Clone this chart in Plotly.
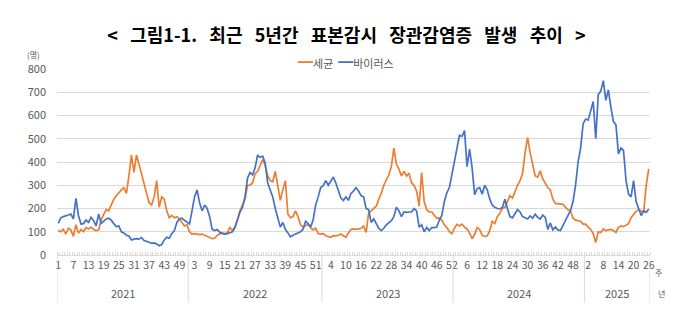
import plotly.graph_objects as go

years = [2021, 2022, 2023, 2024, 2025]
weeks_in_year = [52, 53, 52, 52, 26]

# 세균 (bacteria) weekly counts
bacteria_2021 = [105, 100, 110, 90, 115, 108, 80, 130, 95, 110, 100, 118, 112, 120, 110, 105, 108, 150,
                 175, 195, 190, 215, 240, 255, 270, 280, 290, 265, 340, 430, 355, 430, 390, 345, 300, 265,
                 225, 215, 250, 320, 205, 250, 240, 190, 160, 170, 160, 165, 155, 140, 125, 130]
bacteria_2022 = [100, 90, 92, 90, 88, 90, 85, 80, 76, 70, 72, 85, 90, 95, 92, 95, 118, 105, 120, 150,
                 190, 215, 240, 300, 300, 310, 350, 360, 385, 410, 385, 340, 320, 315, 360, 300, 235, 280,
                 320, 175, 160, 165, 190, 165, 130, 120, 125, 132, 118, 108, 115, 92, 90]
bacteria_2023 = [92, 83, 78, 76, 83, 82, 85, 90, 83, 76, 95, 110, 112, 110, 112, 115, 125, 97, 180, 190,
                 202, 210, 240, 265, 300, 325, 345, 380, 460, 390, 370, 340, 360, 340, 352, 310, 300, 275,
                 210, 355, 230, 195, 185, 185, 170, 158, 160, 150, 130, 118, 100, 92]
bacteria_2024 = [115, 132, 125, 133, 120, 112, 95, 70, 88, 118, 110, 85, 80, 83, 105, 145, 135, 165, 180,
                 200, 205, 230, 255, 245, 275, 300, 320, 350, 440, 505, 440, 390, 340, 335, 362, 327, 310,
                 290, 280, 240, 222, 220, 220, 218, 205, 195, 190, 158, 150, 148, 145, 133]
bacteria_2025 = [133, 120, 110, 92, 54, 100, 97, 112, 105, 108, 110, 105, 97, 119, 125, 122, 127, 135,
                 160, 176, 188, 195, 190, 185, 300, 370]

# 바이러스 (virus) weekly counts
virus_2021 = [136, 160, 165, 170, 172, 176, 155, 244, 170, 133, 135, 150, 140, 162, 148, 125, 176, 136,
              145, 155, 158, 150, 135, 122, 125, 100, 95, 85, 82, 65, 68, 70, 68, 75, 62, 60, 55, 50, 52,
              47, 40, 45, 65, 76, 72, 92, 105, 140, 155, 158, 150, 140]
virus_2022 = [133, 190, 250, 280, 225, 190, 215, 200, 165, 110, 105, 110, 98, 92, 90, 92, 95, 100, 118,
              150, 185, 205, 250, 330, 355, 345, 375, 430, 420, 425, 395, 310, 280, 250, 200, 165, 120,
              140, 110, 95, 78, 85, 90, 97, 100, 110, 145, 135, 120, 150, 215, 250, 290]
virus_2023 = [298, 320, 300, 315, 335, 310, 280, 245, 235, 250, 235, 265, 275, 290, 275, 255, 250, 200,
              195, 140, 155, 135, 115, 105, 115, 130, 140, 148, 165, 205, 190, 165, 185, 183, 185, 185,
              200, 190, 120, 130, 100, 118, 105, 118, 118, 120, 150, 170, 230, 268, 290, 345]
virus_2024 = [410, 455, 515, 510, 535, 380, 455, 375, 260, 285, 290, 262, 300, 280, 240, 215, 205, 200,
              198, 205, 240, 200, 165, 160, 175, 195, 185, 165, 160, 155, 168, 158, 175, 162, 155, 172,
              162, 110, 138, 108, 120, 108, 105, 128, 150, 170, 192, 230, 300, 400, 460, 565]
virus_2025 = [585, 580, 625, 660, 500, 690, 705, 750, 665, 710, 635, 575, 560, 435, 460, 450, 320, 262,
              250, 320, 230, 195, 170, 190, 183, 198]

bacteria = bacteria_2021 + bacteria_2022 + bacteria_2023 + bacteria_2024 + bacteria_2025
virus = virus_2021 + virus_2022 + virus_2023 + virus_2024 + virus_2025

y_ticks = [0, 100, 200, 300, 400, 500, 600, 700, 800]

ORANGE = "#ED7D31"
BLUE = "#4472C4"
GRID = "#D9D9D9"
TXT = "#595959"
FONT = "Noto Sans CJK KR"

week_no = []
year_no = []
for yr, n in zip(years, weeks_in_year):
    for w in range(1, n + 1):
        week_no.append(w)
        year_no.append(yr)
x = list(range(len(week_no)))

tick_idx = list(range(0, len(x), 6))
tick_txt = [str(week_no[i]) for i in tick_idx]

bounds = [-0.5]
for n in weeks_in_year:
    bounds.append(bounds[-1] + n)

fig = go.Figure()
fig.add_trace(go.Scatter(x=x, y=bacteria, mode="lines", name="세균",
                         line=dict(color=ORANGE, width=1.7),
                         customdata=list(zip(year_no, week_no)),
                         hovertemplate="%{customdata[0]}년 %{customdata[1]}주: %{y}<extra>세균</extra>",
                         showlegend=False))
fig.add_trace(go.Scatter(x=x, y=virus, mode="lines", name="바이러스",
                         line=dict(color=BLUE, width=1.7),
                         customdata=list(zip(year_no, week_no)),
                         hovertemplate="%{customdata[0]}년 %{customdata[1]}주: %{y}<extra>바이러스</extra>",
                         showlegend=False))

shapes = []
for b in bounds:
    shapes.append(dict(type="line", xref="x", yref="paper", x0=b, x1=b, y0=0, y1=-0.255,
                       line=dict(color=GRID, width=1)))

annotations = []
for yr, a, b in zip(years, bounds[:-1], bounds[1:]):
    annotations.append(dict(text=str(yr), xref="x", yref="paper", x=(a + b) / 2, y=-0.205,
                            showarrow=False, font=dict(size=11, color=TXT, family=FONT),
                            xanchor="center", yanchor="middle"))
annotations.append(dict(text="(명)", xref="paper", yref="paper", x=(33 - 57) / 593, y=(255 - 54) / 186,
                        showarrow=False, font=dict(size=8, color=TXT, family=FONT),
                        xanchor="center", yanchor="middle"))
annotations.append(dict(text="주", xref="paper", yref="paper", x=1.005, y=-0.095,
                        showarrow=False, font=dict(size=8, color=TXT, family=FONT),
                        xanchor="left", yanchor="middle"))
annotations.append(dict(text="년", xref="paper", yref="paper", x=1.01, y=-0.205,
                        showarrow=False, font=dict(size=8, color=TXT, family=FONT),
                        xanchor="left", yanchor="middle"))
annotations.append(dict(text=f"<span style='color:{ORANGE};font-size:15px'>━</span>세균\u00a0\u00a0"
                             f"<span style='color:{BLUE};font-size:15px'>━</span>바이러스",
                        xref="paper", yref="paper", x=(345.5 - 57) / 593, y=(255 - 61) / 186,
                        showarrow=False, font=dict(size=11, color=TXT, family=FONT),
                        xanchor="center", yanchor="middle"))

gap = " \u00a0\u00a0"
title_words = ["<", "그림1-1.", "최근", "5년간", "표본감시", "장관감염증", "발생", "추이", ">"]
title_text = gap.join(title_words)

fig.update_layout(
    width=700, height=323,
    margin=dict(l=57, r=50, t=69, b=68),
    paper_bgcolor="white", plot_bgcolor="white",
    font=dict(family=FONT, color=TXT),
    title=dict(text=title_text,
               x=(346.5 / 700), xanchor="center", y=1 - 35.5 / 323, yanchor="middle",
               xref="container", yref="container",
               font=dict(size=18, color="#000000", family=FONT, weight="bold")),
    xaxis=dict(range=[-0.5, len(x) - 0.5], tickmode="array", tickvals=tick_idx, ticktext=tick_txt,
               ticks="", showgrid=False, zeroline=False, showline=True, linecolor=GRID,
               tickfont=dict(size=10.5, color=TXT, family=FONT), tickangle=0,
               minor=dict(ticks="inside", ticklen=3, tickcolor=GRID, tick0=-0.5, dtick=1,
                          showgrid=False)),
    yaxis=dict(range=[0, 800], tickmode="array", tickvals=y_ticks, showgrid=True, gridcolor=GRID,
               gridwidth=1, zeroline=False, showline=False, ticks="",
               tickfont=dict(size=11, color=TXT, family=FONT), ticklabelstandoff=10),
    shapes=shapes, annotations=annotations,
)

fig.write_html("out.html")
